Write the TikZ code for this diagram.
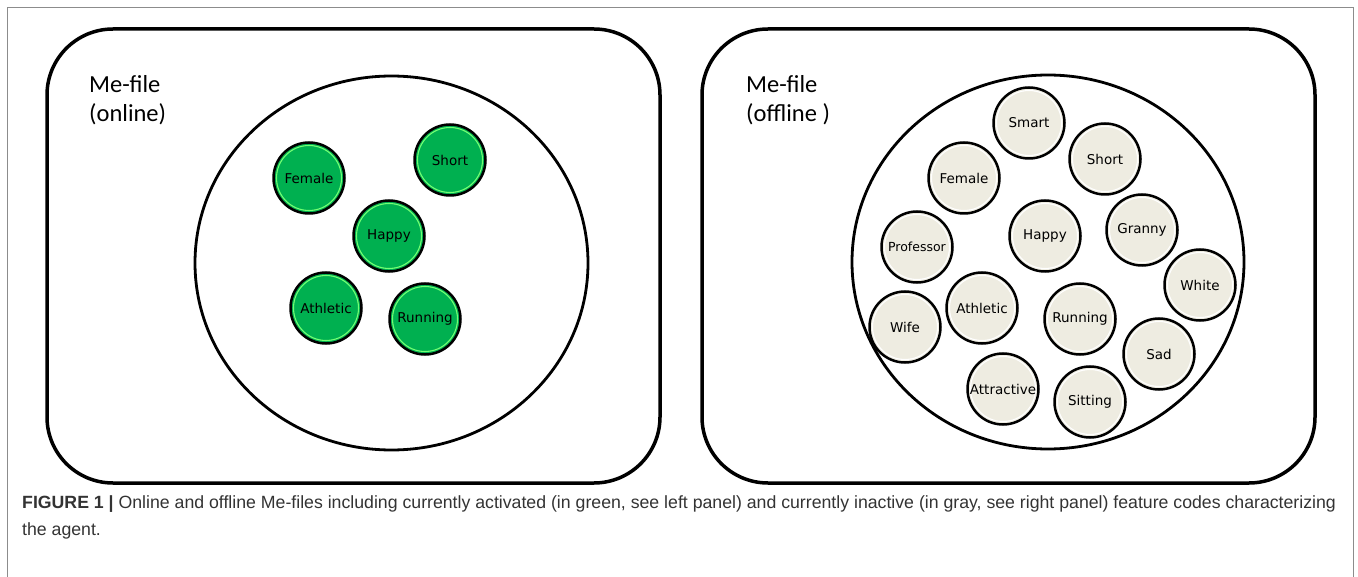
\documentclass[tikz,border=0pt]{standalone}
\usepackage{fontspec}
\setmainfont{DejaVu Sans}
\newfontfamily\titlefont{Carlito}
\newfontfamily\captionfont{Liberation Sans}
\definecolor{codegreen}{HTML}{00B050}
\definecolor{codegray}{HTML}{EEECE1}
\definecolor{framegray}{HTML}{8C8C8C}

\tikzset{
  panel/.style={line width=3.5pt, rounded corners=66pt},
  pool/.style={line width=2.8pt},
  feature/.style={circle, draw=black, line width=2.5pt, minimum size=71pt,
    inner sep=0pt, font=\fontsize{13.5}{15}\selectfont},
  active/.style={feature, fill=codegreen, path picture={
    \draw[green!55!white, line width=1.1pt] (path picture bounding box.center) circle (32.5pt);}},
  inactive/.style={feature, fill=codegray, path picture={
    \draw[white, line width=1.1pt] (path picture bounding box.center) circle (32.5pt);}},
  filelabel/.style={anchor=north west, inner sep=0pt, align=left,
    font=\titlefont\fontsize{24.5}{29}\selectfont}
}

\begin{document}
\begin{tikzpicture}[x=1pt, y=-1pt]
\useasboundingbox (0,0) rectangle (1358,577);

% outer frame
\draw[framegray, line width=1pt] (7.5,577) -- (7.5,8) -- (1353.5,8) -- (1353.5,577);

% online Me-file
\draw[panel] (47,29) rectangle (660,483);
\node[filelabel] (onlinelabel) at (89,75) {Me-file\\(online)};
\node[active] (onfemale) at (309,178) {Female};
\node[active] (onshort) at (450,160) {Short};
\node[active] (onhappy) at (389,236) {Happy};
\node[active] (onathletic) at (326,308) {Athletic};
\node[active] (onrunning) at (425,319) {Running};
\draw[pool] (391.5,263) ellipse [x radius=196.5, y radius=187];

% offline Me-file
\draw[panel] (702,29) rectangle (1315,483);
\node[filelabel] (offlinelabel) at (746,75) {Me-file\\(offline )};
\foreach \name/\xx/\yy/\word in {
    smart/1029/123/Smart, short/1105/159/Short, female/964/178/Female,
    happy/1045/236/Happy, granny/1142/230/Granny, white/1200/285/White,
    athletic/982/308/Athletic, running/1080/319/Running, wife/905/327/Wife,
    sad/1159/354/Sad, attractive/1003/389/Attractive, sitting/1090/402/Sitting}
  \node[inactive] (off\name) at (\xx,\yy) {\word};
\node[inactive, font=\fontsize{12.5}{14}\selectfont] (offprofessor) at (917,247) {Professor};
\draw[pool] (1048,262) ellipse [x radius=196, y radius=187];

% caption
\node[anchor=north west, inner sep=0pt, align=left, text=black!80,
  font=\captionfont\fontsize{17.7}{27}\selectfont] (caption) at (22,495)
  {\textbf{FIGURE 1 |} Online and offline Me-files including currently activated (in green, see left panel) and currently inactive (in gray, see right panel) feature codes characterizing\\the agent.};
\end{tikzpicture}
\end{document}
